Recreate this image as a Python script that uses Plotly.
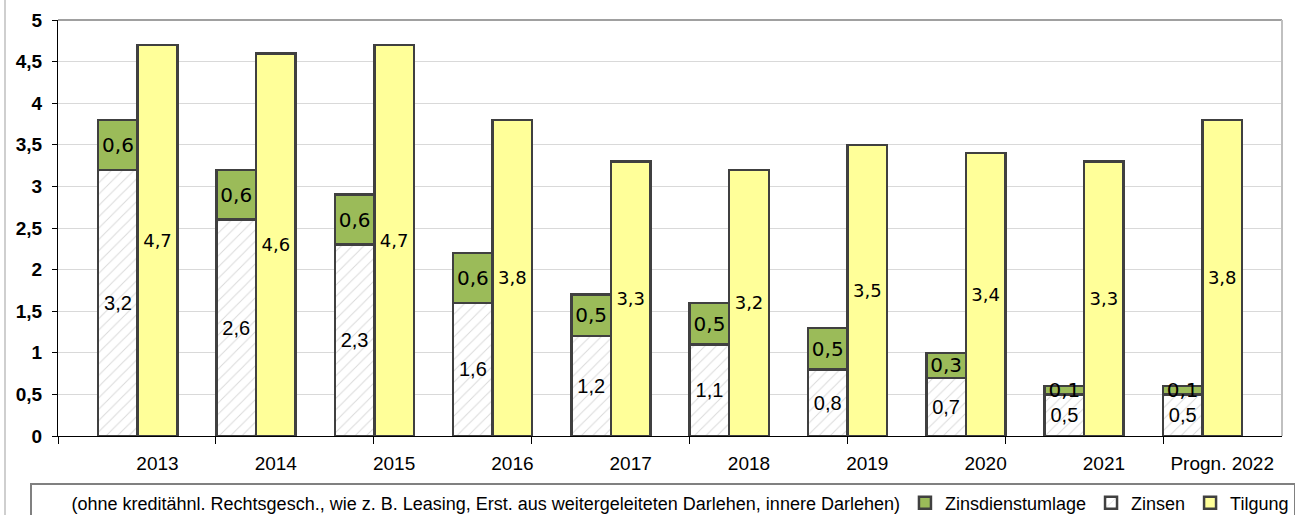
import plotly.graph_objects as go

categories = ["2013", "2014", "2015", "2016", "2017", "2018", "2019", "2020", "2021", "Progn. 2022"]
zinsen = [3.2, 2.6, 2.3, 1.6, 1.2, 1.1, 0.8, 0.7, 0.5, 0.5]
zinsdienstumlage = [0.6, 0.6, 0.6, 0.6, 0.5, 0.5, 0.5, 0.3, 0.1, 0.1]
tilgung = [4.7, 4.6, 4.7, 3.8, 3.3, 3.2, 3.5, 3.4, 3.3, 3.8]
y_ticks = [0, 0.5, 1, 1.5, 2, 2.5, 3, 3.5, 4, 4.5, 5]
note = "(ohne kreditähnl. Rechtsgesch., wie z. B. Leasing, Erst. aus weitergeleiteten Darlehen, innere Darlehen)"

W, H = 1316, 515
L, R, T, B = 58, 34, 20, 79
plot_w = W - L - R
plot_h = H - T - B
unit = 118.3                      # px per category step
x_max = plot_w / unit
bar_w = 0.334
left_off = 0.507
right_off = left_off + bar_w
tick_step = 157.9 / unit

idx = list(range(len(categories)))
x_left = [i + left_off for i in idx]
x_right = [i + right_off for i in idx]

line = dict(color="#404040", width=2.5)
fig = go.Figure()

fig.add_trace(go.Scatter(
    x=[None], y=[None], mode="lines", name=note, xaxis="x2",
    line=dict(color="rgba(0,0,0,0)", width=0), legendrank=1, hoverinfo="skip"))

fig.add_trace(go.Bar(
    x=x_left, y=zinsen, width=bar_w, name="Zinsen", legendrank=3,
    marker=dict(color="white", line=line,
                pattern=dict(shape="/", fgcolor="#b4b4b4", bgcolor="white", size=8, solidity=0.12)),
    texttemplate="%{y:.1f}", textposition="inside", insidetextanchor="middle",
    constraintext="none", textangle=0,
    textfont=dict(family="Liberation Sans", size=20, color="black")))

fig.add_trace(go.Bar(
    x=x_left, y=zinsdienstumlage, width=bar_w, name="Zinsdienstumlage", legendrank=2,
    marker=dict(color="#9BBB59", line=line),
    texttemplate="%{y:.1f}", textposition="inside", insidetextanchor="middle",
    constraintext="none", textangle=0,
    textfont=dict(family="DejaVu Sans", size=20, color="black")))

fig.add_trace(go.Bar(
    x=x_right, y=tilgung, width=bar_w, name="Tilgung", legendrank=4,
    marker=dict(color="#FFFF99", line=line),
    texttemplate="%{y:.1f}", textposition="inside", insidetextanchor="middle",
    constraintext="none", textangle=0,
    textfont=dict(family="DejaVu Sans", size=18, color="black")))

fig.update_layout(
    width=W, height=H,
    margin=dict(l=L, r=R, t=T, b=B, autoexpand=False),
    barmode="stack",
    separators=",.",
    paper_bgcolor="white", plot_bgcolor="white",
    font=dict(family="Liberation Sans", color="black"),
    showlegend=True,
    legend=dict(orientation="h", x=(30 - L) / plot_w, y=(436 - 483) / plot_h,
                xanchor="left", yanchor="top", bordercolor="#808080", borderwidth=1.5,
                bgcolor="white", font=dict(family="Liberation Sans", size=18, color="black"),
                traceorder="normal"),
    xaxis=dict(range=[0, x_max], tickvals=x_right, ticktext=categories, ticks="",
               showline=True, linecolor="black", linewidth=1, showgrid=False, zeroline=False,
               ticklabelstandoff=10,
               tickfont=dict(family="Liberation Sans", size=19, color="black")),
    xaxis2=dict(range=[0, x_max], overlaying="x", anchor="y", side="bottom",
                tickvals=[m * tick_step for m in range(8)], ticks="outside", ticklen=7,
                tickcolor="black", tickwidth=1, showticklabels=False, showgrid=False,
                zeroline=False, showline=False),
    yaxis=dict(range=[0, 5], tickvals=y_ticks, tickformat=".1~f", ticks="outside", ticklen=5,
               tickcolor="black", showline=True, linecolor="black", linewidth=1,
               showgrid=True, gridcolor="#d9d9d9", gridwidth=1, zeroline=False,
               ticklabelstandoff=6,
               tickfont=dict(family="Liberation Sans", size=19, color="black", weight="bold")),
    shapes=[
        dict(type="line", xref="paper", yref="paper", x0=0, x1=1, y0=1, y1=1,
             line=dict(color="#808080", width=1.5)),
        dict(type="line", xref="paper", yref="paper", x0=1, x1=1, y0=0, y1=1,
             line=dict(color="#c0c0c0", width=2)),
        dict(type="line", xref="paper", yref="paper", x0=(5 - L) / plot_w, x1=(5 - L) / plot_w,
             y0=-B / plot_h, y1=(H - B) / plot_h + 0.01, line=dict(color="#bfbfbf", width=1.5)),
    ],
)

fig.write_html("out.html", config={"displayModeBar": False},
               post_script="document.body.style.margin='0';")
